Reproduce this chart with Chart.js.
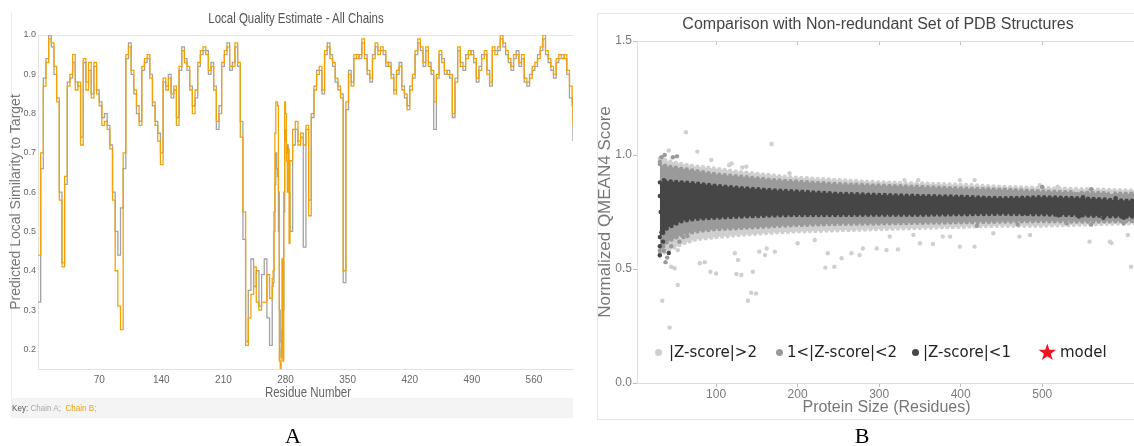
<!DOCTYPE html>
<html>
<head>
<meta charset="utf-8">
<script src="https://cdn.jsdelivr.net/npm/chart.js@4.4.0/dist/chart.umd.min.js"></script>
<style>
html, body { margin: 0; padding: 0; background: #fff; }
body { width: 1134px; height: 446px; overflow: hidden; position: relative; font-family: 'Liberation Sans', Arial, sans-serif; }
.abs { position: absolute; white-space: nowrap; }
.narrow { transform: scaleX(0.82); }
#frameB { left: 597px; top: 13px; width: 600px; height: 405px; border: 1px solid #e6e6e6; }
#edgeA { left: 11px; top: 12px; width: 1px; height: 386px; background: #ececec; }
#canvasA { position: absolute; left: 0; top: 0; }
#canvasB { position: absolute; left: 590px; top: 0; }
#titleA { left: 96px; width: 400px; top: 10px; text-align: center; font-size: 14px; color: #555; line-height: 16px; }
#xTitleA { left: 208px; width: 200px; top: 384px; text-align: center; font-size: 14px; color: #666; line-height: 16px; }
#titleB { left: 678px; width: 400px; top: 15px; text-align: center; font-size: 16px; color: #444; line-height: 18px; }
#keyA { left: 11px; top: 398px; width: 562px; height: 20px; background: #f4f4f4; }
#keyText { left: 12px; top: 398px; font-size: 9.5px; line-height: 20px; color: #555; transform: scaleX(0.85); transform-origin: left center; }
.lab { width: 100px; text-align: center; top: 424px; font: 22px 'Liberation Serif', 'Times New Roman', serif; line-height: 24px; color: #000; }
.ldot { width: 7px; height: 7px; border-radius: 50%; top: 349px; }
.ltxt { top: 343px; font: 15px 'DejaVu Sans', sans-serif; line-height: 18px; color: #222; }
</style>
</head>
<body>
<div id="frameB" class="abs"></div>
<div id="edgeA" class="abs"></div>
<div id="keyA" class="abs"></div>
<canvas id="canvasA" width="580" height="446"></canvas>
<canvas id="canvasB" width="560" height="446"></canvas>

<div id="titleA" class="abs narrow">Local Quality Estimate - All Chains</div>
<div id="xTitleA" class="abs narrow">Residue Number</div>
<div id="keyText" class="abs">Key: <span style="color:#a8a8a8">Chain A;</span>&nbsp; <span style="color:#f0a30a">Chain B;</span></div>
<div id="titleB" class="abs">Comparison with Non-redundant Set of PDB Structures</div>

<div class="abs ldot" style="left:655px;background:#cfcfcf"></div>
<div class="abs ltxt" style="left:669px">|Z-score|&gt;2</div>
<div class="abs ldot" style="left:776px;background:#9a9a9a"></div>
<div class="abs ltxt" style="left:787px">1&lt;|Z-score|&lt;2</div>
<div class="abs ldot" style="left:912px;background:#464646"></div>
<div class="abs ltxt" style="left:923px">|Z-score|&lt;1</div>
<div class="abs ltxt" style="left:1037px;top:339px;font-size:23px;line-height:26px;color:#ee1520">★</div>
<div class="abs ltxt" style="left:1060px">model</div>

<div class="abs lab" style="left:243px">A</div>
<div class="abs lab" style="left:812px">B</div>

<script>
// ---------- Panel A: local quality per residue ----------
var residues = [
  1, 4, 7, 10, 13, 16, 19, 22, 25, 28,
  31, 34, 37, 40, 43, 46, 49, 52, 55, 58,
  61, 64, 67, 70, 73, 76, 79, 82, 85, 88,
  91, 94, 97, 100, 103, 106, 109, 112, 115, 118,
  121, 124, 127, 130, 133, 136, 139, 142, 145, 148,
  151, 154, 157, 160, 163, 166, 169, 172, 175, 178,
  181, 184, 187, 190, 193, 196, 199, 202, 205, 208,
  211, 214, 217, 220, 223, 226, 229, 232, 235, 238,
  241, 244, 247, 250, 253, 256, 259, 262, 265, 266,
  267, 268, 269, 270, 271, 272, 273, 274, 275, 276,
  277, 278, 279, 280, 281, 282, 283, 284, 285, 288,
  291, 294, 297, 300, 303, 306, 309, 312, 315, 318,
  321, 324, 327, 330, 333, 336, 339, 342, 345, 348,
  351, 354, 357, 360, 363, 366, 369, 372, 375, 378,
  381, 384, 387, 390, 393, 396, 399, 402, 405, 408,
  411, 414, 417, 420, 423, 426, 429, 432, 435, 438,
  441, 444, 447, 450, 453, 456, 459, 462, 465, 468,
  471, 474, 477, 480, 483, 486, 489, 492, 495, 498,
  501, 504, 507, 510, 513, 516, 519, 522, 525, 528,
  531, 534, 537, 540, 543, 546, 549, 552, 555, 558,
  561, 564, 567, 570, 573, 576, 579, 582, 585, 588,
  591, 594, 597, 600, 603, 604
];

var chainB = [
  0.44, 0.70, 0.87, 0.93, 0.99, 0.98, 0.92, 0.83, 0.58, 0.41,
  0.64, 0.87, 0.90, 0.95, 0.86, 0.88, 0.72, 0.94, 0.86, 0.93,
  0.84, 0.93, 0.85, 0.82, 0.77, 0.78, 0.76, 0.71, 0.58, 0.40,
  0.31, 0.25, 0.70, 0.95, 0.97, 0.91, 0.86, 0.82, 0.77, 0.92,
  0.94, 0.95, 0.89, 0.83, 0.77, 0.73, 0.67, 0.89, 0.86, 0.89,
  0.85, 0.87, 0.77, 0.92, 0.96, 0.93, 0.92, 0.86, 0.80, 0.86,
  0.93, 0.96, 0.97, 0.95, 0.91, 0.92, 0.86, 0.78, 0.80, 0.93,
  0.96, 0.97, 0.92, 0.92, 0.98, 0.93, 0.74, 0.55, 0.21, 0.28,
  0.34, 0.41, 0.32, 0.30, 0.32, 0.32, 0.39, 0.33, 0.38, 0.40,
  0.55, 0.75, 0.83, 0.83, 0.82, 0.60, 0.17, 0.15, 0.20, 0.43,
  0.17, 0.60, 0.83, 0.80, 0.68, 0.60, 0.71, 0.47, 0.68, 0.76,
  0.78, 0.72, 0.75, 0.72, 0.77, 0.54, 0.80, 0.86, 0.90, 0.92,
  0.86, 0.96, 0.97, 0.94, 0.93, 0.89, 0.87, 0.84, 0.40, 0.83,
  0.90, 0.87, 0.95, 0.94, 0.95, 0.99, 0.94, 0.91, 0.89, 0.94,
  0.98, 0.95, 0.97, 0.96, 0.93, 0.92, 0.89, 0.85, 0.91, 0.92,
  0.86, 0.85, 0.81, 0.86, 0.90, 0.96, 0.99, 0.97, 0.93, 0.97,
  0.92, 0.91, 0.83, 0.90, 0.96, 0.93, 0.91, 0.90, 0.90, 0.80,
  0.88, 0.97, 0.92, 0.92, 0.94, 0.96, 0.95, 0.94, 0.89, 0.91,
  0.94, 0.96, 0.90, 0.88, 0.97, 0.95, 0.97, 1.00, 0.98, 0.96,
  0.94, 0.92, 0.95, 0.95, 0.93, 0.95, 0.89, 0.88, 0.89, 0.92,
  0.93, 0.94, 0.97, 1.00, 0.96, 0.94, 0.92, 0.90, 0.94, 0.95,
  0.94, 0.95, 0.91, 0.87, 0.82, 0.77
];

var chainA = [
  0.32, 0.66, 0.89, 0.94, 1.00, 0.97, 0.90, 0.84, 0.60, 0.42,
  0.62, 0.88, 0.89, 0.93, 0.88, 0.87, 0.74, 0.93, 0.88, 0.91,
  0.85, 0.92, 0.86, 0.83, 0.79, 0.80, 0.77, 0.72, 0.60, 0.50,
  0.44, 0.56, 0.66, 0.94, 0.98, 0.90, 0.85, 0.80, 0.78, 0.91,
  0.93, 0.94, 0.90, 0.82, 0.78, 0.75, 0.70, 0.88, 0.87, 0.90,
  0.84, 0.86, 0.79, 0.91, 0.97, 0.94, 0.91, 0.87, 0.82, 0.84,
  0.92, 0.95, 0.96, 0.96, 0.90, 0.93, 0.87, 0.76, 0.82, 0.92,
  0.95, 0.98, 0.91, 0.93, 0.97, 0.92, 0.78, 0.48, 0.22, 0.35,
  0.43, 0.36, 0.40, 0.31, 0.39, 0.43, 0.28, 0.21, 0.36, 0.37,
  0.50, 0.62, 0.70, 0.66, 0.64, 0.50, 0.30, 0.22, 0.18, 0.25,
  0.30, 0.55, 0.73, 0.76, 0.70, 0.72, 0.68, 0.60, 0.50, 0.72,
  0.76, 0.73, 0.74, 0.46, 0.76, 0.58, 0.79, 0.87, 0.91, 0.91,
  0.85, 0.95, 0.98, 0.95, 0.92, 0.88, 0.86, 0.85, 0.37, 0.81,
  0.91, 0.88, 0.94, 0.95, 0.94, 0.98, 0.95, 0.90, 0.88, 0.95,
  0.97, 0.96, 0.96, 0.95, 0.92, 0.93, 0.90, 0.86, 0.90, 0.93,
  0.87, 0.84, 0.82, 0.87, 0.89, 0.95, 0.98, 0.96, 0.92, 0.96,
  0.93, 0.90, 0.76, 0.89, 0.95, 0.94, 0.90, 0.91, 0.89, 0.79,
  0.89, 0.96, 0.93, 0.91, 0.95, 0.95, 0.96, 0.93, 0.88, 0.92,
  0.95, 0.95, 0.91, 0.87, 0.96, 0.96, 0.96, 0.99, 0.97, 0.95,
  0.93, 0.91, 0.94, 0.96, 0.92, 0.94, 0.88, 0.87, 0.90, 0.91,
  0.92, 0.95, 0.96, 0.99, 0.95, 0.93, 0.91, 0.89, 0.93, 0.94,
  0.95, 0.94, 0.90, 0.84, 0.83, 0.73
];

var residueTicks = [70, 140, 210, 280, 350, 420, 490, 560];
var similarityTicks = [0.2, 0.3, 0.4, 0.5, 0.6, 0.7, 0.8, 0.9, 1.0];

// ---------- Panel B: QMEAN4 vs protein size ----------
// envelopes of the dense point cloud
var bandSizes   = [31, 40, 58, 75, 100, 130, 170, 200, 250, 300, 350, 400, 450, 500, 550, 600, 620];
var darkTop     = [0.88, 0.885, 0.88, 0.875, 0.865, 0.855, 0.845, 0.84, 0.83, 0.825, 0.82, 0.817, 0.81, 0.815, 0.81, 0.80, 0.80];
var darkBottom  = [0.64, 0.68, 0.71, 0.72, 0.725, 0.73, 0.735, 0.737, 0.737, 0.738, 0.738, 0.74, 0.742, 0.74, 0.735, 0.73, 0.73];
var midTop      = [0.96, 0.95, 0.94, 0.93, 0.915, 0.905, 0.89, 0.883, 0.872, 0.866, 0.86, 0.853, 0.848, 0.84, 0.835, 0.83, 0.83];
var midBottom   = [0.58, 0.62, 0.65, 0.665, 0.675, 0.68, 0.688, 0.693, 0.698, 0.70, 0.703, 0.705, 0.708, 0.71, 0.708, 0.71, 0.71];
var lightTop    = [0.985, 0.975, 0.96, 0.95, 0.94, 0.925, 0.91, 0.90, 0.89, 0.88, 0.875, 0.87, 0.86, 0.855, 0.85, 0.845, 0.845];
var lightBottom = [0.56, 0.58, 0.61, 0.63, 0.64, 0.65, 0.66, 0.665, 0.67, 0.675, 0.68, 0.685, 0.69, 0.69, 0.695, 0.70, 0.70];

// single points outside the cloud
var lightOutliers = [
  [33, 0.985], [42, 1.02], [63, 1.10], [77, 1.015], [94, 0.978], [116, 0.955], [119, 0.963], [132, 0.945],
  [137, 0.949], [168, 1.048], [190, 0.92], [331, 0.89], [348, 0.89], [399, 0.89], [417, 0.89], [497, 0.868],
  [519, 0.861], [542, 0.846], [585, 0.839],
  [34, 0.361], [43, 0.243], [45, 0.51], [49, 0.503], [53, 0.43], [53, 0.583], [80, 0.525], [86, 0.53],
  [93, 0.488], [100, 0.48], [123, 0.569], [125, 0.478], [127, 0.54], [131, 0.474], [139, 0.361], [143, 0.396],
  [145, 0.488], [149, 0.393], [153, 0.576], [160, 0.561], [162, 0.59], [172, 0.576], [200, 0.613], [221, 0.627],
  [234, 0.506], [237, 0.569], [245, 0.51], [254, 0.547], [266, 0.569], [276, 0.561], [280, 0.59], [297, 0.59],
  [309, 0.583], [313, 0.642], [323, 0.586], [342, 0.649], [350, 0.613], [366, 0.61], [378, 0.642], [387, 0.642],
  [399, 0.598], [417, 0.598], [440, 0.657], [472, 0.642], [485, 0.649], [558, 0.62], [583, 0.62], [585, 0.614],
  [605, 0.649], [609, 0.51]
];
var midOutliers = [
  [31, 0.97], [33, 0.99], [37, 1.0], [47, 0.99], [52, 0.994], [38, 0.53], [40, 0.55], [45, 0.60],
  [55, 0.62], [60, 0.64], [36, 0.58], [65, 0.645], [420, 0.69], [470, 0.695], [530, 0.70], [560, 0.695],
  [600, 0.70], [500, 0.86], [560, 0.85]
];
var darkOutliers = [
  [31, 0.60], [31, 0.56], [33, 0.66], [35, 0.62], [38, 0.70], [42, 0.57], [32, 0.75], [31, 0.82],
  [36, 0.89], [44, 0.88], [480, 0.745], [520, 0.735], [545, 0.73], [575, 0.725], [600, 0.725], [612, 0.74],
  [590, 0.81], [550, 0.815]
];

var sizeTicks = [100, 200, 300, 400, 500];
var scoreTicks = [0.0, 0.5, 1.0, 1.5];

var ORANGE = '#f0a30a', GREY = '#a3a3a3';
var LIGHT = '#cfcfcf', MID = '#9a9a9a', DARK = '#464646';

Chart.defaults.font.family = "'Liberation Sans', Arial, sans-serif";

function ptsOf(xs, ys) {
  return xs.map(function(x, i) { return { x: x, y: ys[i] }; });
}
function pairs(list) {
  return list.map(function(p) { return { x: p[0], y: p[1] }; });
}
function setTicks(values) {
  return function(axis) { axis.ticks = values.map(function(v) { return { value: v }; }); };
}

// Panel A
new Chart(document.getElementById('canvasA'), {
  type: 'line',
  data: {
    datasets: [
      { label: 'Chain B', data: ptsOf(residues, chainB), borderColor: ORANGE, borderWidth: 1.3, stepped: true, pointRadius: 0, fill: false },
      { label: 'Chain A', data: ptsOf(residues, chainA), borderColor: GREY, borderWidth: 1.3, stepped: true, pointRadius: 0, fill: false }
    ]
  },
  options: {
    responsive: false,
    animation: false,
    layout: { padding: { left: 8, right: 7, top: 35, bottom: 45.6 } },
    plugins: { legend: { display: false }, tooltip: { enabled: false } },
    scales: {
      x: {
        type: 'linear', min: 1, max: 604,
        afterBuildTicks: setTicks(residueTicks),
        afterFit: function(a) { a.height = 31.4; },
        grid: { display: false, drawTicks: false },
        border: { color: '#e2e2e2' },
        ticks: { color: '#666', font: { size: 10 }, padding: 5, maxRotation: 0, autoSkip: false }
      },
      y: {
        type: 'linear', min: 0.15, max: 1.0,
        afterBuildTicks: setTicks(similarityTicks),
        afterFit: function(a) { a.width = 30; },
        grid: {
          drawTicks: false,
          color: function(c) { return c.tick && c.tick.value === 1 ? '#e6e6e6' : 'rgba(0,0,0,0)'; }
        },
        border: { color: '#e2e2e2' },
        ticks: { color: '#666', font: { size: 9 }, padding: 2, callback: function(v) { return v.toFixed(1); } },
        title: { display: true, text: 'Predicted Local Similarity to Target', color: '#777', font: { size: 14 }, padding: { top: 0, bottom: 0 } }
      }
    }
  }
});

// Panel B
function edge(values, color, fill) {
  return {
    xAxisID: 'x', data: ptsOf(bandSizes, values), showLine: true, pointRadius: 0,
    borderColor: color, backgroundColor: color, borderWidth: 4.4, borderDash: [0, 5.5],
    borderCapStyle: 'round', fill: fill, tension: 0
  };
}
function dots(list, color) {
  return {
    xAxisID: 'x', data: pairs(list), showLine: false, pointRadius: 2.2, pointBorderWidth: 0,
    pointBackgroundColor: color, backgroundColor: color, borderColor: color
  };
}

new Chart(document.getElementById('canvasB'), {
  type: 'line',
  data: {
    datasets: [
      dots(darkOutliers, DARK),
      dots(midOutliers, MID),
      dots(lightOutliers, LIGHT),
      edge(darkTop, DARK, '+1'),
      edge(darkBottom, DARK, false),
      edge(midTop, MID, '+1'),
      edge(midBottom, MID, false),
      edge(lightTop, LIGHT, '+1'),
      edge(lightBottom, LIGHT, false)
    ]
  },
  options: {
    responsive: false,
    animation: false,
    layout: { padding: { left: 0, right: 14, top: 37, bottom: 28.4 } },
    plugins: { legend: { display: false }, tooltip: { enabled: false } },
    scales: {
      x: {
        type: 'linear', min: 3, max: 615,
        afterBuildTicks: setTicks(sizeTicks),
        afterFit: function(a) { a.height = 34.6; },
        grid: { drawOnChartArea: false, tickLength: 4, color: '#bdbdbd' },
        border: { color: '#dedede' },
        ticks: { color: '#7a7a7a', font: { size: 12 }, padding: 0, maxRotation: 0, autoSkip: false },
        title: { display: true, text: 'Protein Size (Residues)', color: '#777', font: { size: 16 }, padding: 0 }
      },
      x2: {
        type: 'linear', position: 'top', min: 3, max: 615,
        afterBuildTicks: setTicks(sizeTicks),
        afterFit: function(a) { a.height = 4; },
        grid: { drawOnChartArea: false, tickLength: -4, color: '#bdbdbd' },
        border: { color: '#dedede' },
        ticks: { display: false }
      },
      y: {
        type: 'linear', min: 0, max: 1.5,
        afterBuildTicks: setTicks(scoreTicks),
        afterFit: function(a) { a.width = 47; },
        grid: { drawOnChartArea: false, tickLength: 4, color: '#bdbdbd' },
        border: { color: '#dedede' },
        ticks: { color: '#7a7a7a', font: { size: 12 }, padding: 1, callback: function(v) { return v.toFixed(1); } },
        title: { display: true, text: 'Normalized QMEAN4 Score', color: '#777', font: { size: 17 }, padding: { top: 4.8, bottom: 0 } }
      }
    }
  }
});
</script>
</body>
</html>
